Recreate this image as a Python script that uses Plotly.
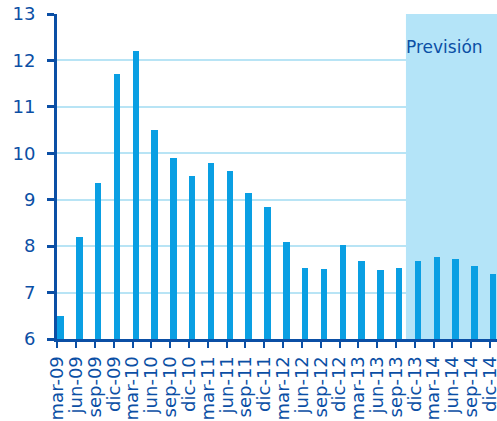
import plotly.graph_objects as go

categories = ["mar-09", "jun-09", "sep-09", "dic-09", "mar-10", "jun-10", "sep-10", "dic-10",
              "mar-11", "jun-11", "sep-11", "dic-11", "mar-12", "jun-12", "sep-12", "dic-12",
              "mar-13", "jun-13", "sep-13", "dic-13", "mar-14", "jun-14", "sep-14", "dic-14"]
values = [6.5, 8.2, 9.37, 11.7, 12.2, 10.5, 9.9, 9.52,
          9.8, 9.61, 9.14, 8.85, 8.1, 7.52, 7.51, 8.02,
          7.69, 7.49, 7.53, 7.68, 7.77, 7.72, 7.57, 7.39]
forecast_start = 18.53
forecast_label = "Previsión"

dark = "#0b4fa5"
font_family = "DejaVu Sans"
x = list(range(len(categories)))

fig = go.Figure()
fig.add_trace(go.Bar(x=x, y=[v - 6 for v in values], base=6, width=0.34, offset=0,
                     marker=dict(color="#0a9fe3", line=dict(width=0))))

fig.add_shape(type="rect", xref="x", yref="y", x0=forecast_start, x1=24, y0=6, y1=13,
              fillcolor="#b4e4f8", line=dict(width=0), layer="between")
fig.add_annotation(x=forecast_start, y=12.3, xref="x", yref="y", text=forecast_label,
                   showarrow=False, xanchor="left", xshift=-2,
                   font=dict(size=17, color=dark, family=font_family))

fig.update_layout(
    width=497, height=421,
    margin=dict(l=57, r=0, t=14, b=82),
    plot_bgcolor="white", paper_bgcolor="white",
    showlegend=False, bargap=0,
    font=dict(family=font_family, color=dark),
)
fig.update_xaxes(range=[-0.02, 23.37], tickvals=x, ticktext=categories, tickangle=-90,
                 showgrid=False, showline=True, linecolor=dark, linewidth=3,
                 ticks="outside", ticklen=6, tickwidth=2, tickcolor=dark,
                 ticklabelstandoff=1, ticklabeloverflow="allow", automargin=False,
                 tickfont=dict(size=18, color=dark, family=font_family), zeroline=False)
fig.update_yaxes(range=[6, 13], tickvals=[6, 7, 8, 9, 10, 11, 12, 13],
                 showgrid=True, gridcolor="#b8e4f5", gridwidth=2,
                 showline=True, linecolor=dark, linewidth=3,
                 ticks="outside", ticklen=7, tickwidth=3, tickcolor=dark,
                 ticklabelstandoff=8, automargin=False,
                 tickfont=dict(size=18, color=dark, family=font_family), zeroline=False)

fig.write_html("out.html")
